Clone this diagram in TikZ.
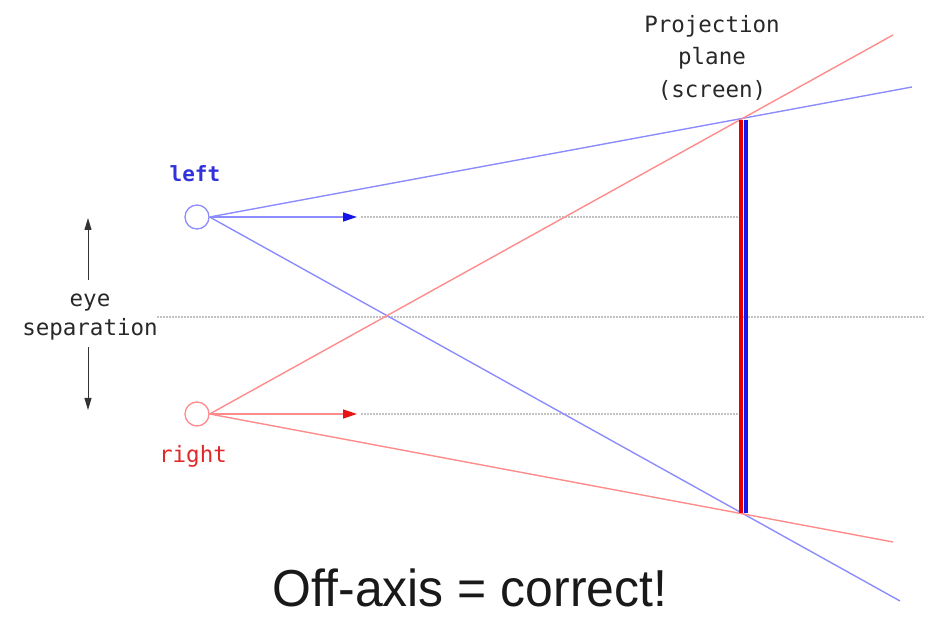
\documentclass[tikz,border=0pt]{standalone}
\usepackage{fontspec}
\setmainfont{Liberation Sans}
\newfontfamily\monof{DejaVu Sans Mono}
\usetikzlibrary{arrows.meta}
\definecolor{lblue}{RGB}{140,140,255}
\definecolor{lred}{RGB}{255,140,140}
\definecolor{tipblue}{RGB}{20,20,230}
\definecolor{tipred}{RGB}{230,20,20}
\definecolor{txtblue}{RGB}{50,50,220}
\definecolor{txtred}{RGB}{225,40,40}
\definecolor{dotgray}{RGB}{195,195,195}
\definecolor{txtgray}{RGB}{40,40,40}
\begin{document}
\begin{tikzpicture}[x=1pt,y=-1pt,
  eye/.style={circle,draw,line width=1.3pt,minimum size=24pt,inner sep=0pt},
  ray/.style={line width=1.4pt},
  guide/.style={dotgray,line width=1.3pt,dash pattern=on 1.6pt off 1.4pt},
  lbl/.style={font=\monof\fontsize{22.5}{26}\selectfont,text=txtgray,anchor=base,inner sep=0pt},
  sep/.style={black!80,line width=1pt,-{Triangle[length=12pt,width=7pt]}}]
\useasboundingbox (0,0) rectangle (930,617);
% eyes
\node[eye,draw=lblue] (L) at (197,217) {};
\node[eye,draw=lred] (R) at (197,414) {};
% screen points
\coordinate (st) at (741,120);
\coordinate (sb) at (741,513);
\coordinate (bst) at (746,120);
\coordinate (bsb) at (746,513);
% far ends
\coordinate (bU) at (912,87);
\coordinate (bD) at (900,601);
\coordinate (rU) at (893,35);
\coordinate (rD) at (893,542);
% guides
\coordinate (la) at (357,217);
\coordinate (ra) at (357,414);
\coordinate (lg0) at (361,217);
\coordinate (lg1) at (740,217);
\coordinate (rg0) at (361,414);
\coordinate (rg1) at (740,414);
\coordinate (m0) at (157,317);
\coordinate (m1) at (925,317);
\draw[guide] (lg0) -- (lg1);
\draw[guide] (rg0) -- (rg1);
\draw[guide] (m0) -- (m1);
% rays
\draw[ray,lblue] (L.east) -- (bU);
\draw[ray,lblue] (L.east) -- (bD);
\draw[ray,lred] (R.east) -- (rU);
\draw[ray,lred] (R.east) -- (rD);
% view arrows
\draw[ray,lblue,-{Triangle[length=14pt,width=9pt,color=tipblue]}] (L.east) -- (la);
\draw[ray,lred,-{Triangle[length=14pt,width=9pt,color=tipred]}] (R.east) -- (ra);
% screen
\draw[line width=3.5pt,color={rgb,255:red,230;green,0;blue,0}] (st) -- (sb);
\draw[line width=3.5pt,color={rgb,255:red,20;green,20;blue,235}] (bst) -- (bsb);
% labels
\node[lbl,text=txtblue,font=\monof\bfseries\fontsize{21}{26}\selectfont] (tl) at (195,182) {left};
\node[lbl,text=txtred] (tr) at (193,463) {right};
\node[lbl] (p1) at (712,33) {Projection};
\node[lbl] (p2) at (712,65) {plane};
\node[lbl] (p3) at (712,98) {(screen)};
\node[lbl] (e1) at (90,307) {eye};
\node[lbl] (e2) at (90,336) {separation};
\coordinate (a0) at (88,280);
\coordinate (a1) at (88,218);
\coordinate (b0) at (88,347);
\coordinate (b1) at (88,410);
\draw[sep] (a0) -- (a1);
\draw[sep] (b0) -- (b1);
% caption
\node[anchor=base,inner sep=0pt,text=black!90,font=\fontsize{52}{60}\selectfont] (cap) at (470,607) {\scalebox{0.96}[1]{Off-axis = correct!}};
\end{tikzpicture}
\end{document}
